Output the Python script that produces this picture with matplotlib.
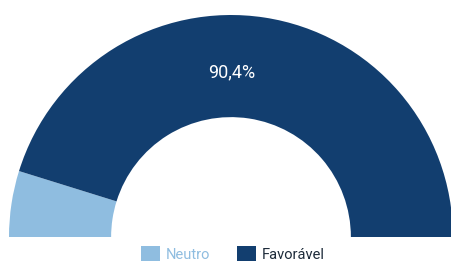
import matplotlib
matplotlib.use("Agg")
import matplotlib.pyplot as plt
from matplotlib.patches import Patch

categories = ["Neutro", "Favorável"]
values = [9.6, 90.4]
colors = ["#8fbde0", "#123e6f"]
label_text = "90,4%"

W, H = 451, 261
fig = plt.figure(figsize=(W / 100, H / 100), dpi=100)
ax = fig.add_axes([0, 0, 1, 1])

total = sum(values)
wedges, _ = ax.pie(values + [total], colors=colors + ["none"], startangle=180,
                   counterclock=False, radius=1.0,
                   wedgeprops=dict(width=0.46, linewidth=0))
wedges[-1].set_visible(False)

R = 222.0
cx, cy = 231.0, 261 - 237.0
ax.set_aspect("auto")
ax.set_xlim(-cx / R, (W - cx) / R)
ax.set_ylim(-cy / R, (H - cy) / R)
ax.axis("off")

ax.text((232 - cx) / R, (261 - 72 - cy) / R, label_text, color="white",
        fontsize=13, family="Roboto", ha="center", va="center")

handles = [Patch(facecolor=c, edgecolor="none") for c in colors]
leg = fig.legend(handles, categories, loc="center", bbox_to_anchor=(233 / W, 1 - 254 / H),
                 ncol=2, frameon=False, prop={"family": "Roboto", "size": 10.5},
                 handlelength=1.3, handleheight=1.3, handletextpad=0.4, columnspacing=1.8,
                 borderaxespad=0, borderpad=0)
leg.get_texts()[0].set_color(colors[0])
leg.get_texts()[1].set_color("#1d2b3a")

fig.savefig("out.png", dpi=100, facecolor="white")
